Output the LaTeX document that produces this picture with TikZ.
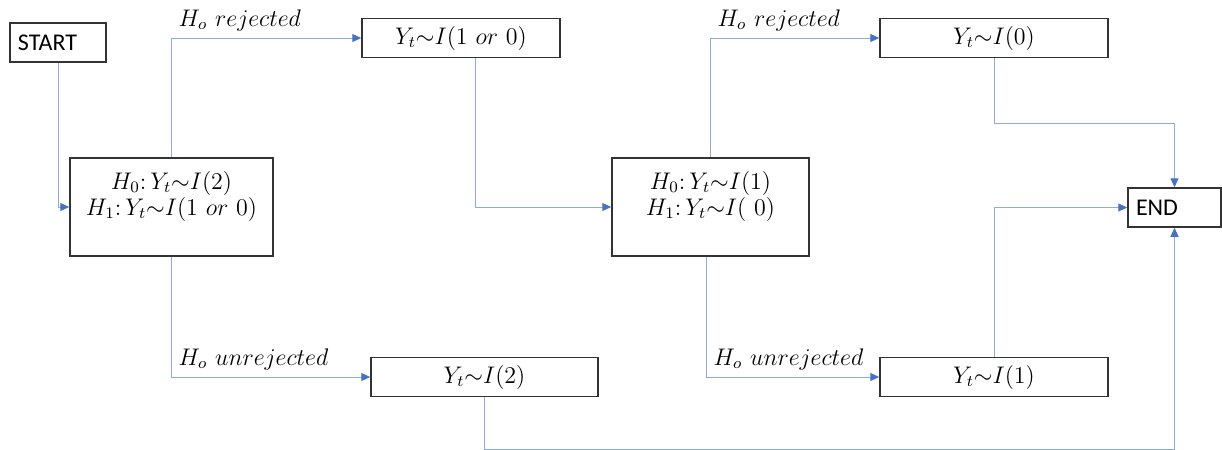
\documentclass[tikz,border=0pt]{standalone}
\usepackage{amsmath}
\usepackage{fontspec}
\newfontfamily\carlito{Carlito}
\usetikzlibrary{arrows.meta}
\definecolor{linkblue}{HTML}{8FAADC}
\definecolor{tipblue}{HTML}{4472C4}

\begin{document}
\begin{tikzpicture}[x=0.5pt, y=-0.5pt,
    box/.style={draw=black!80, line width=0.75pt, minimum height=19.5pt, inner sep=0pt,
        font=\fontsize{12}{13}\selectfont},
    term/.style={box, font=\carlito\fontsize{12}{14}\selectfont, inner xsep=4pt, align=left},
    conn/.style={linkblue, line width=0.5pt, -{Triangle[length=4.5pt,width=4pt,color=tipblue]}},
    lab/.style={text=black, font=\fontsize{12}{14}\selectfont, anchor=south west}]
    \useasboundingbox (0,0) rectangle (1222,450);

    % Start and end
    \node[term, text width=40pt] (start) at (58,42.5) {START};
    \node[term, text width=38.5pt] (finish) at (1174.5,207.5) {END};

    % Test boxes
    \node[box, minimum width=101.5pt, minimum height=49pt] (h1) at (171.5,207) {};
    \node[font=\fontsize{12}{13}\selectfont, align=center, inner sep=0pt] (h1t) at (171.5,196)
        {$H_0{:}\,Y_t{\sim}I(2)$\\ $H_1{:}\,Y_t{\sim}I(1\ or\ 0)$};
    \node[box, minimum width=98.5pt, minimum height=49pt] (h2) at (710.5,207) {};
    \node[font=\fontsize{12}{13}\selectfont, align=center, inner sep=0pt] (h2t) at (710.5,196)
        {$H_0{:}\,Y_t{\sim}I(1)$\\ $H_1{:}\,Y_t{\sim}I(\ 0)$};

    % Outcomes
    \node[box, minimum width=99pt] (y10) at (461,38) {$Y_t{\sim}I(1\ or\ 0)$};
    \node[box, minimum width=113.5pt] (y2) at (484.5,377) {$Y_t{\sim}I(2)$};
    \node[box, minimum width=114pt] (y0) at (994,38) {$Y_t{\sim}I(0)$};
    \node[box, minimum width=114pt] (y1) at (994,377) {$Y_t{\sim}I(1)$};

    % Connectors
    \draw[conn] (start.south) |- (h1.west);
    \draw[conn] (h1.north) |- (y10.west) node[lab, pos=0.5] (r1) {$H_o\ rejected$};
    \draw[conn] (h1.south) |- (y2.west) node[lab, pos=0.5] (u1) {$H_o\ unrejected$};
    \draw[conn] ([xshift=7pt]y10.south) |- (h2.west);
    \draw[conn] (h2.north) |- (y0.west) node[lab, pos=0.5] (r2) {$H_o\ rejected$};
    \draw[conn] ([xshift=-2pt]h2.south) |- (y1.west) node[lab, pos=0.5] (u2) {$H_o\ unrejected$};
    \draw[conn] (y0.south) -- ++(0,65) -| (finish.north);
    \draw[conn] (y1.north) |- (finish.west);
    \draw[conn] (y2.south) -- ++(0,52) -| (finish.south);
\end{tikzpicture}
\end{document}
